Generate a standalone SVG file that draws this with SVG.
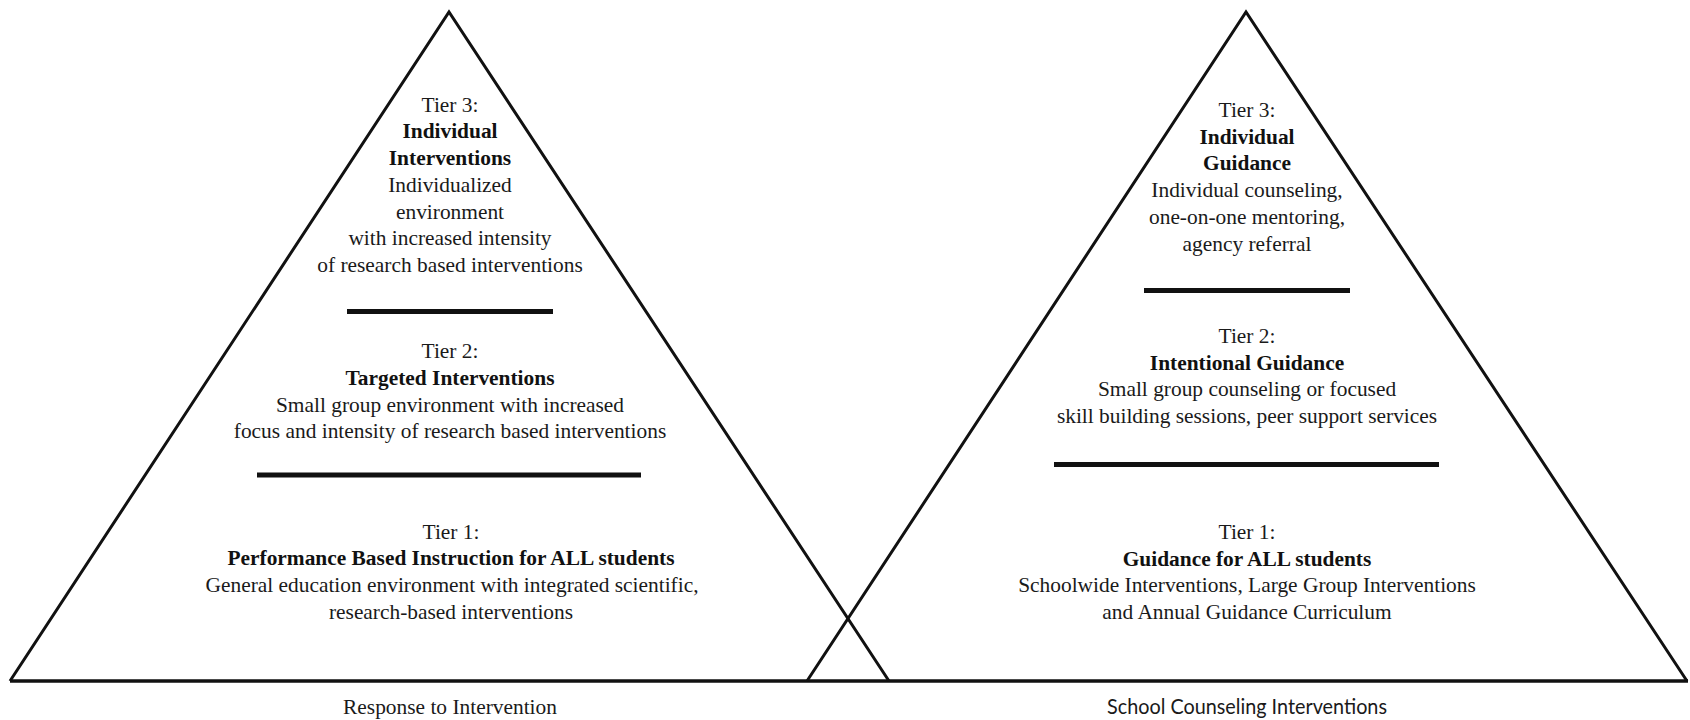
<svg xmlns="http://www.w3.org/2000/svg" width="1690" height="720" viewBox="0 0 1690 720">
  <style>
    .tri { fill: none; stroke: #111; stroke-width: 3; stroke-linejoin: miter; }
    .base { stroke: #111; stroke-width: 3.5; }
    .div { stroke: #111; stroke-width: 5; }
    text { font-family: "Liberation Serif", "Times New Roman", serif; font-size: 21.4px; fill: #1a1a1a; text-anchor: middle; }
    .b { font-weight: bold; fill: #111; }
    .sans { font-family: Lato, "Open Sans", "Liberation Sans", sans-serif; font-size: 20.5px; }
  </style>
  <rect width="1690" height="720" fill="#fff"/>
  <g id="connectors">
    <line class="base" x1="10" y1="681" x2="1688" y2="681"/>
  </g>
  <g id="pyramid-rti">
    <polyline class="tri" points="10,681 449,12 889,681"/>
    <line class="div" x1="347" y1="311.5" x2="553" y2="311.5"/>
    <line class="div" x1="257" y1="475" x2="641" y2="475"/>
  </g>
  <g id="pyramid-sci">
    <polyline class="tri" points="807,681 1246,12 1687,681"/>
    <line class="div" x1="1144" y1="290.5" x2="1350" y2="290.5"/>
    <line class="div" x1="1054" y1="464.5" x2="1439" y2="464.5"/>
  </g>
  <g id="rti-tier3">
    <text x="450" y="111.7">Tier 3:</text>
    <text class="b" x="450" y="138.4">Individual</text>
    <text class="b" x="450" y="165">Interventions</text>
    <text x="450" y="191.8">Individualized</text>
    <text x="450" y="218.5">environment</text>
    <text x="450" y="245.2">with increased intensity</text>
    <text x="450" y="271.8">of research based interventions</text>
  </g>
  <g id="rti-tier2">
    <text x="450" y="358.3">Tier 2:</text>
    <text class="b" x="450" y="385">Targeted Interventions</text>
    <text x="450" y="411.7">Small group environment with increased</text>
    <text x="450" y="438.4">focus and intensity of research based interventions</text>
  </g>
  <g id="rti-tier1">
    <text x="451" y="538.5">Tier 1:</text>
    <text class="b" x="451" y="565.2">Performance Based Instruction for ALL students</text>
    <text x="452" y="591.9">General education environment with integrated scientific,</text>
    <text x="451" y="618.6">research-based interventions</text>
  </g>
  <g id="sci-tier3">
    <text x="1247" y="117">Tier 3:</text>
    <text class="b" x="1247" y="143.7">Individual</text>
    <text class="b" x="1247" y="170.4">Guidance</text>
    <text x="1247" y="197.1">Individual counseling,</text>
    <text x="1247" y="223.8">one-on-one mentoring,</text>
    <text x="1247" y="250.5">agency referral</text>
  </g>
  <g id="sci-tier2">
    <text x="1247" y="343">Tier 2:</text>
    <text class="b" x="1247" y="369.6">Intentional Guidance</text>
    <text x="1247" y="396.2">Small group counseling or focused</text>
    <text x="1247" y="422.8">skill building sessions, peer support services</text>
  </g>
  <g id="sci-tier1">
    <text x="1247" y="539">Tier 1:</text>
    <text class="b" x="1247" y="565.7">Guidance for ALL students</text>
    <text x="1247" y="592.4">Schoolwide Interventions, Large Group Interventions</text>
    <text x="1247" y="619.1">and Annual Guidance Curriculum</text>
  </g>
  <g id="labels">
    <text x="450" y="714">Response to Intervention</text>
    <text class="sans" x="1247" y="714" textLength="280" lengthAdjust="spacingAndGlyphs">School Counseling Interventions</text>
  </g>
</svg>
